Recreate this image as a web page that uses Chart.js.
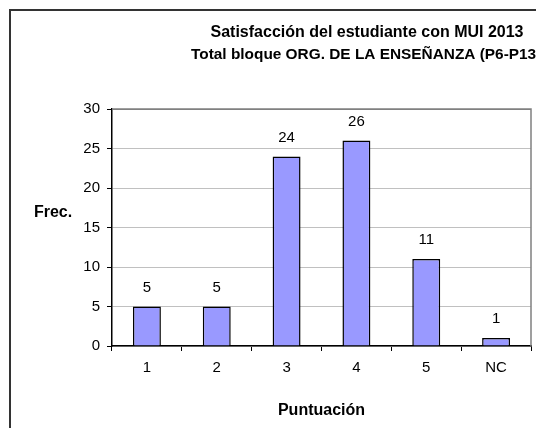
<!DOCTYPE html>
<html>
<head>
<meta charset="utf-8">
<script src="https://cdn.jsdelivr.net/npm/chart.js@4.4.0/dist/chart.umd.min.js"></script>
<style>
html,body{margin:0;padding:0;background:#fff;overflow:hidden;}
#wrap{position:relative;width:536px;height:428px;}
</style>
</head>
<body>
<div id="wrap"><canvas id="c" width="536" height="428"></canvas></div>
<script>
const categories = ['1', '2', '3', '4', '5', 'NC'];
const frecuencias = [5, 5, 24, 26, 11, 1];
const yTicks = [0, 5, 10, 15, 20, 25, 30];
const titleLines = ['Satisfacción del estudiante con MUI 2013', 'Total bloque ORG. DE LA ENSEÑANZA (P6-P13)'];
const yTitle = 'Frec.';
const xTitle = 'Puntuación';

const FONT = '"Liberation Sans", Arial, sans-serif';

const decor = {
  id: 'decor',
  beforeDraw(chart) {
    const ctx = chart.ctx;
    ctx.save();
    ctx.fillStyle = '#fff';
    ctx.fillRect(0, 0, chart.width, chart.height);
    ctx.strokeStyle = '#333';
    ctx.lineWidth = 2;
    ctx.strokeRect(10, 10, chart.width + 20, chart.height + 20);
    ctx.restore();
  },
  afterDatasetsDraw(chart) {
    const ctx = chart.ctx;
    const a = chart.chartArea;
    ctx.save();
    ctx.strokeStyle = '#808080';
    ctx.lineWidth = 1.5;
    ctx.beginPath();
    ctx.moveTo(a.left, a.top);
    ctx.lineTo(a.right, a.top);
    ctx.lineTo(a.right, a.bottom);
    ctx.stroke();
    const meta = chart.getDatasetMeta(0);
    ctx.fillStyle = '#000';
    ctx.font = '15px ' + FONT;
    ctx.textAlign = 'center';
    ctx.textBaseline = 'middle';
    meta.data.forEach((bar, i) => {
      ctx.fillText(String(frecuencias[i]), bar.x, bar.y - 19);
    });
    ctx.font = 'bold 16px ' + FONT;
    ctx.fillText(titleLines[0], 367, 33);
    ctx.fillText(yTitle, 53, 213);
    ctx.fillText(xTitle, (a.left + a.right) / 2, 411);
    ctx.font = 'bold 15.4px ' + FONT;
    ctx.textAlign = 'left';
    ctx.fillText(titleLines[1], 191, 55);
    ctx.restore();
  }
};

new Chart(document.getElementById('c'), {
  type: 'bar',
  data: {
    labels: categories,
    datasets: [{
      data: frecuencias,
      backgroundColor: '#9999FF',
      borderColor: '#000',
      borderWidth: 1.5,
      barPercentage: 0.4,
      categoryPercentage: 1.0
    }]
  },
  options: {
    responsive: false,
    animation: false,
    devicePixelRatio: 1,
    layout: { padding: { left: 0, top: 109, right: 5, bottom: 0 } },
    plugins: { legend: { display: false }, title: { display: false }, tooltip: { enabled: false } },
    scales: {
      x: {
        offset: true,
        grid: { offset: true, drawOnChartArea: false, drawTicks: true, tickLength: 5, tickColor: '#000', tickWidth: 1 },
        border: { color: '#000', width: 1.5 },
        ticks: { color: '#000', font: { family: FONT, size: 15 }, padding: 8 },
        afterFit(s) { s.height = 82; }
      },
      y: {
        min: 0, max: 30,
        afterBuildTicks(s) { s.ticks = yTicks.map(v => ({ value: v })); },
        grid: {
          color: (c) => (c.tick && c.tick.value === 30) ? '#808080' : '#c0c0c0',
          lineWidth: 1, tickLength: 5, tickColor: '#000', tickWidth: 1
        },
        border: { color: '#000', width: 1.5 },
        ticks: { color: '#000', font: { family: FONT, size: 15 }, padding: 7 },
        afterFit(s) { s.width = 112; }
      }
    }
  },
  plugins: [decor]
});
</script>
</body>
</html>
